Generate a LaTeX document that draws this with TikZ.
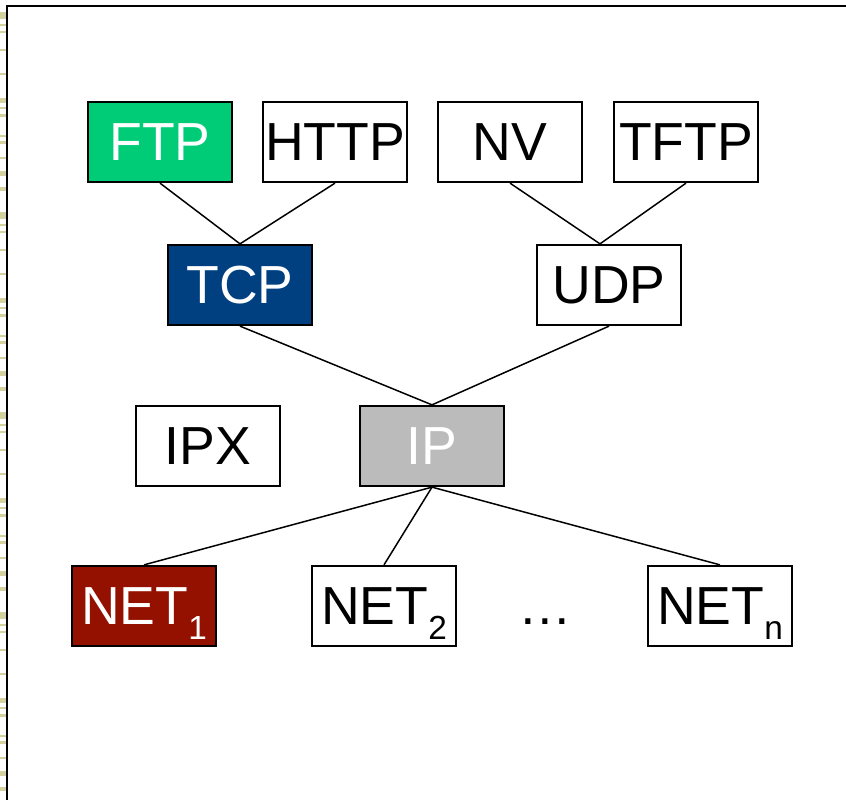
\documentclass[tikz,border=0pt]{standalone}
\usepackage{fontspec}
\setmainfont{Liberation Sans}
\usetikzlibrary{positioning}
\definecolor{ftpgreen}{HTML}{00CC77}
\definecolor{tcpnavy}{HTML}{004080}
\definecolor{ipgray}{HTML}{BBBBBB}
\definecolor{netred}{HTML}{941100}
\definecolor{stripeolive}{HTML}{D4D2A0}
\newcommand{\netsub}[1]{\raisebox{-8.5pt}{\fontsize{19}{19}\selectfont #1}}
\begin{document}
\begin{tikzpicture}[x=0.02cm,y=-0.02cm,
    box/.style={draw=black,line width=1.3pt,fill=white,minimum width=2.88cm,minimum height=1.6cm,
                inner sep=0pt,text height=21.5pt,text depth=0pt,font=\fontsize{30.5}{32}\selectfont},
    hilite/.style={box,text=white},
    link/.style={draw=black,line width=0.85pt}]
  \useasboundingbox (0,0) rectangle (846,800);
  % slide edge
  \foreach \off in {0,200,400,600}
    \foreach \ya/\yb in {12/19,24/26,31/33,49/51,73/75,98/103,107/109,114/117,135/137,141/144,157/159,171/176,187/191}
      \fill[stripeolive] (0,\ya+\off) rectangle (6,\yb+\off);
  \draw[line width=1.7pt] (7,800) -- (7,6) -- (846,6);
  % application layer
  \node[hilite,fill=ftpgreen] (ftp) at (160,142) {FTP};
  \node[box,right=0.575cm of ftp] (http) {HTTP};
  \node[box,right=0.575cm of http] (nv) {NV};
  \node[box,right=0.595cm of nv] (tftp) {TFTP};
  % transport layer
  \node[hilite,fill=tcpnavy] (tcp) at (240,285) {TCP};
  \node[box] (udp) at (609,285) {UDP};
  \coordinate (udpjoin) at ([xshift=-0.18cm]udp.north);
  % network layer
  \node[box] (ipx) at (208,446) {IPX};
  \node[hilite,fill=ipgray] (ip) at (432,446) {IP};
  % link layer
  \node[hilite,fill=netred] (net1) at (144,606) {NET\netsub{1}};
  \node[box] (net2) at (384,606) {NET\netsub{2}};
  \node[box,draw=none,fill=none] (dots) at (545,606) {…};
  \node[box] (netn) at (720,606) {NET\netsub{n}};
  \draw[link] (ftp.south) -- (tcp.north) -- (http.south);
  \draw[link] (nv.south) -- (udpjoin) -- (tftp.south);
  \draw[link] (tcp.south) -- (ip.north) -- (udp.south);
  \draw[link] (ip.south) -- (net1.north);
  \draw[link] (ip.south) -- (net2.north);
  \draw[link] (ip.south) -- (netn.north);
\end{tikzpicture}
\end{document}
